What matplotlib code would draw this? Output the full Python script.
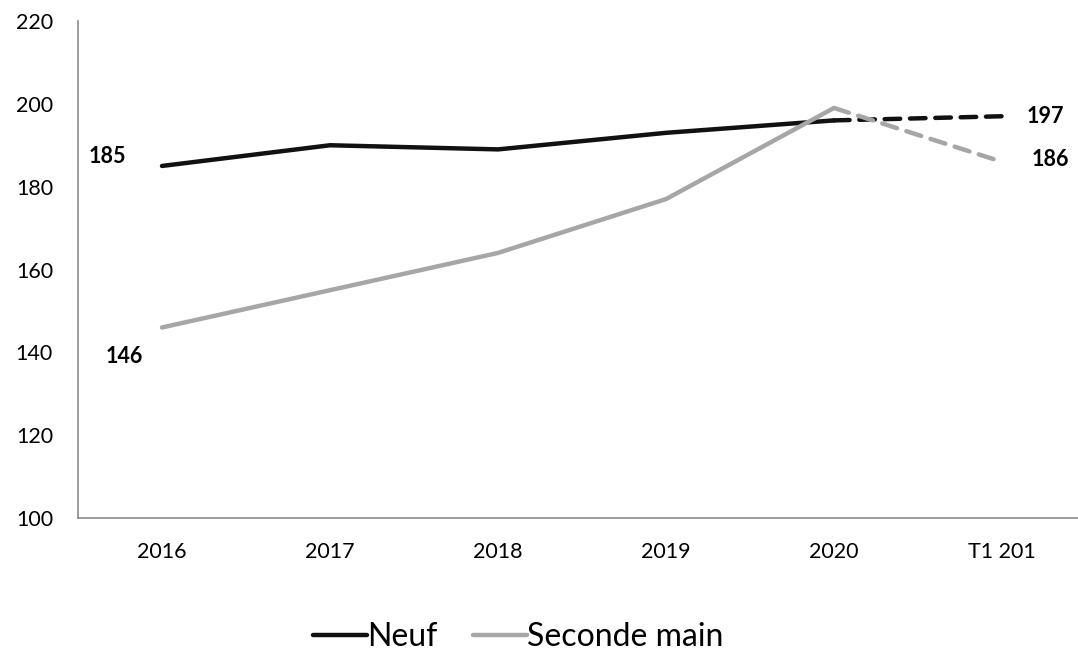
import matplotlib.pyplot as plt

plt.rcParams['font.family'] = ['Lato', 'DejaVu Sans']

categories = ['2016', '2017', '2018', '2019', '2020', 'T1 201']
neuf = [185, 190, 189, 193, 196, 197]
seconde = [146, 155, 164, 177, 199, 186]

black = '#111111'
grey = '#a6a6a6'

fig = plt.figure(figsize=(10.78, 6.55), dpi=100)
ax = fig.add_axes([78/1078, 137/655, 1008/1078, 497/655])

x = list(range(len(categories)))
# traits pleins jusqu'a 2020, pointilles ensuite
ax.plot(x[:5], neuf[:5], color=black, lw=3.2, solid_capstyle='round', label='Neuf')
ax.plot(x[4:], neuf[4:], color=black, lw=3.2, ls=(0, (3.5, 2.2)), dash_capstyle='round')
ax.plot(x[:5], seconde[:5], color=grey, lw=3.2, solid_capstyle='round', label='Seconde main')
ax.plot(x[4:], seconde[4:], color=grey, lw=3.2, ls=(0, (3.5, 2.2)), dash_capstyle='round')

lab = dict(textcoords='offset points', ha='center', va='center', fontsize=15.5, fontweight='bold')
ax.annotate(str(neuf[0]), (x[0], neuf[0]), xytext=(-39, 7), **lab)
ax.annotate(str(seconde[0]), (x[0], seconde[0]), xytext=(-27, -21), **lab)
ax.annotate(str(neuf[-1]), (x[-1], neuf[-1]), xytext=(31, 0), **lab)
ax.annotate(str(seconde[-1]), (x[-1], seconde[-1]), xytext=(35, 2), **lab)

ax.set_xlim(-0.5, 5.5)
ax.set_ylim(100, 220)
ax.set_yticks(range(100, 221, 20))
ax.set_xticks(x)
ax.set_xticklabels(categories)
ax.tick_params(axis='both', length=0, labelsize=15.5)
ax.tick_params(axis='y', pad=18)
ax.tick_params(axis='x', pad=17)
for s in ['top', 'right']:
    ax.spines[s].set_visible(False)
for s in ['left', 'bottom']:
    ax.spines[s].set_color('#8c8c8c')
    ax.spines[s].set_linewidth(1.2)

fig.legend(loc='center', bbox_to_anchor=(518/1078, 1 - 637/655), ncol=2, frameon=False,
           fontsize=23, handlelength=1.7, handletextpad=0.0, columnspacing=1.1)

fig.savefig('out.png', dpi=100)
